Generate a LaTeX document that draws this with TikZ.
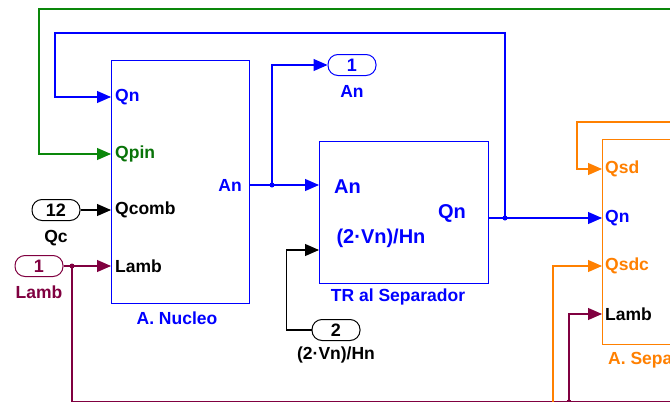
\documentclass[tikz,border=0pt]{standalone}
\usepackage{fontspec}
\setmainfont{Liberation Sans}
\usepackage{tikz}
\usetikzlibrary{arrows.meta, positioning, calc}
\definecolor{simblue}{RGB}{0,0,255}
\definecolor{simgreen}{RGB}{10,135,10}
\definecolor{simorange}{RGB}{255,128,0}
\definecolor{simmaroon}{RGB}{128,0,64}

\begin{document}
\begin{tikzpicture}[x=1pt, y=-1pt,
    sig/.style={line width=1.1pt, -{Triangle[length=14pt, width=12pt]}},
    wire/.style={line width=1.1pt},
    blk/.style={draw, line width=1.1pt, anchor=north west, inner sep=0},
    port/.style={draw, line width=1pt, rounded corners=10pt, minimum width=48pt, minimum height=21pt, inner sep=0, font=\fontsize{18}{20}\selectfont\bfseries},
    lbl/.style={inner sep=0, font=\fontsize{17.5}{20}\selectfont\bfseries},
    big/.style={inner sep=0, font=\fontsize{20}{22}\selectfont\bfseries},
    dot/.style={circle, fill, inner sep=0, minimum size=5pt}]
  \useasboundingbox (0,0) rectangle (670,402);
  \clip (0,0) rectangle (670,402);
  \fill[white] (0,0) rectangle (670,402);
  % Blocks
  \node[blk, simblue, minimum width=138pt, minimum height=243pt] (nucleo) at (111,60) {};
  \node[blk, simblue, minimum width=169pt, minimum height=142pt] (tr) at (319,141) {};
  \node[blk, simorange, minimum width=120pt, minimum height=205pt] (sep) at (602,139) {};
  \node[lbl, simblue] (nucleot) at (177,318) {A. Nucleo};
  \node[lbl, simblue] (trt) at (398,297) {TR al Separador};
  \node[lbl, simorange, anchor=west] (sept) at (608,360) {A. Separador};
  % Ports of A. Nucleo
  \coordinate (nqn) at (111,97);
  \coordinate (nqpin) at (111,154);
  \coordinate (nqc) at (111,210);
  \coordinate (nlamb) at (111,266);
  \coordinate (nan) at (249,185);
  \node[lbl, simblue, anchor=west] (lnqn) at (115,97) {Qn};
  \node[lbl, simgreen!85!black, anchor=west] (lnqpin) at (115,154) {Qpin};
  \node[lbl, anchor=west] (lnqc) at (115,210) {Qcomb};
  \node[lbl, anchor=west] (lnlamb) at (115,266) {Lamb};
  \node[lbl, simblue, anchor=east] (lnan) at (242,185) {An};
  % Ports of TR al Separador
  \coordinate (tan) at (319,185);
  \coordinate (tvn) at (319,250);
  \coordinate (tqn) at (488,218);
  \node[big, simblue, anchor=west] (ltan) at (334,187) {An};
  \node[big, simblue] (ltqn) at (452,213) {Qn};
  \node[big, simblue] (ltvn) at (381,238) {(2·Vn)/Hn};
  % Ports of A. Separador
  \coordinate (ssd) at (602,169);
  \coordinate (sqn) at (602,218);
  \coordinate (ssdc) at (602,266);
  \coordinate (slamb) at (602,314);
  \node[lbl, simorange, anchor=west] (lssd) at (605,169) {Qsd};
  \node[lbl, simblue, anchor=west] (lsqn) at (605,218) {Qn};
  \node[lbl, simorange, anchor=west] (lssdc) at (605,266) {Qsdc};
  \node[lbl, anchor=west] (lslamb) at (605,314) {Lamb};
  % In and out ports
  \node[port] (qc) at (56,210) {12};
  \node[lbl, below=9pt of qc] (qct) {Qc};
  \node[port, simmaroon] (lamb) at (39,266) {1};
  \node[lbl, simmaroon, below=9pt of lamb] (lambt) {Lamb};
  \node[port, simblue] (out1) at (352,65) {1};
  \node[lbl, simblue, below=9pt of out1] (out1t) {An};
  \node[port] (in2) at (336,330) {2};
  \node[lbl, below=6pt of in2] (in2t) {(2·Vn)/Hn};
  % Branch points and free ends
  \node[dot, simblue] (dan) at (272,185) {};
  \node[dot, simblue] (dqn) at (505,218) {};
  \node[dot, simmaroon] (dl) at (72,266) {};
  \node[dot, simmaroon] (dlb) at (569,402) {};
  \coordinate (gsrc) at (690,9);
  \coordinate (lsink) at (690,402);
  \coordinate (osd) at (690,122);
  \coordinate (osdc) at (553,420);
  % Connectors
  \draw[sig, simgreen] (gsrc) -- (39,9) |- (nqpin);
  \draw[sig, simblue] (dqn.center) |- (55,33) |- (nqn);
  \draw[sig, simblue] (nan) -- (tan);
  \draw[sig, simblue] (dan.center) |- (out1.west);
  \draw[sig] (in2.west) -- ++(-25,0) |- (tvn);
  \draw[sig, simblue] (tqn) -- (sqn);
  \draw[sig] (qc.east) -- (nqc);
  \draw[sig, simmaroon] (lamb.east) -- (nlamb);
  \draw[wire, simmaroon] (dl.center) |- (lsink);
  \draw[sig, simmaroon] (dlb.center) |- (slamb);
  \draw[sig, simorange] (osd) -- (577,122) |- (ssd);
  \draw[sig, simorange] (osdc) |- (ssdc);
\end{tikzpicture}
\end{document}
